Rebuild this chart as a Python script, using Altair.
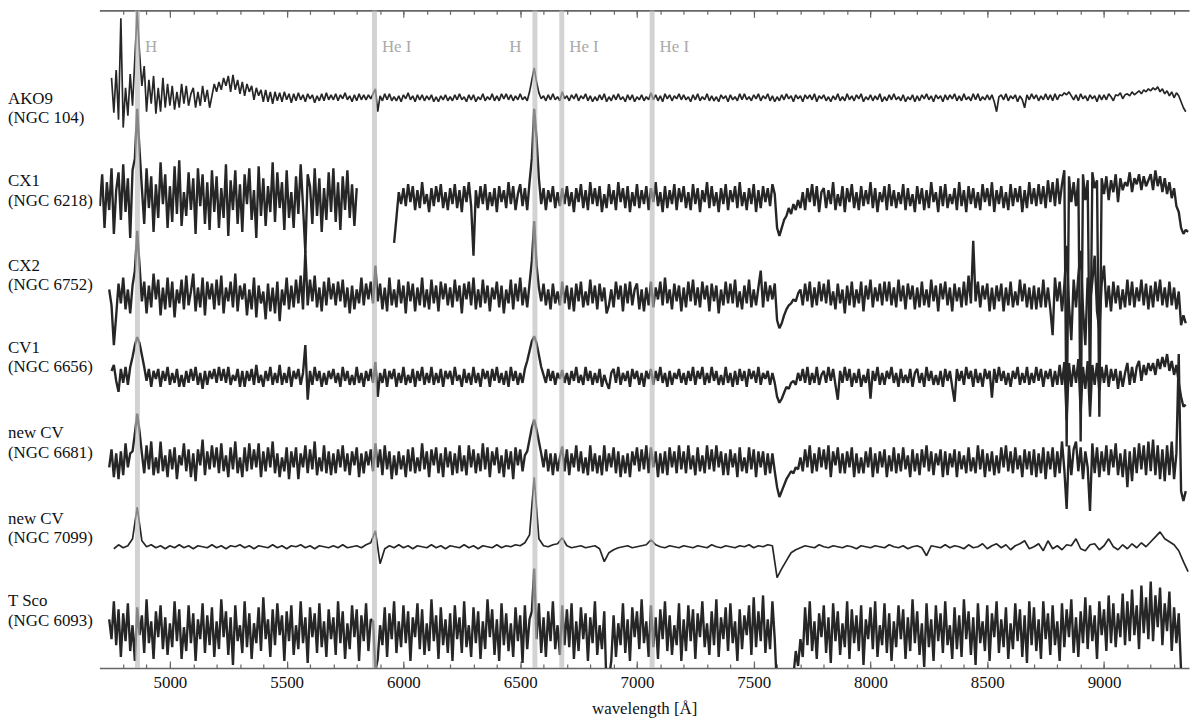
import altair as alt
import pandas as pd

FONT = "Liberation Serif"

# wavelength sampling grids (Angstrom)
wl_fine = list(range(4700, 9361, 10))    # 467 samples
wl_coarse = list(range(4700, 9361, 20))  # 234 samples

names = ["AKO9", "CX1", "CX2", "CV1", "new CV", "new CV", "T Sco"]
hosts = ["NGC 104", "NGC 6218", "NGC 6752", "NGC 6656", "NGC 6681", "NGC 7099", "NGC 6093"]
offsets = [574, 473, 375, 293, 208, 122, 37]
name_pos = [573, 490, 405, 322, 236, 150, 67]
noisy = [False, True, True, True, True, False, True]

line_wl = [4861, 5876, 6563, 6678, 7065]
line_names = ["H", "He I", "H", "He I", "He I"]

major_ticks = [5000, 5500, 6000, 6500, 7000, 7500, 8000, 8500, 9000]
minor_ticks = [4800, 4900, 5000, 5100, 5200, 5300, 5400, 5500, 5600, 5700, 5800, 5900,
               6000, 6100, 6200, 6300, 6400, 6500, 6600, 6700, 6800, 6900, 7000, 7100,
               7200, 7300, 7400, 7500, 7600, 7700, 7800, 7900, 8000, 8100, 8200, 8300,
               8400, 8500, 8600, 8700, 8800, 8900, 9000, 9100, 9200, 9300]

N = None
# ---- relative flux, 10 A sampling (one block of 5 lines = 500 A) ----
ako9 = [
    N, N, N, N, N, 20, -15, 28, -22, 80,
    -30, 10, -18, 24, -8, 40, 88, 45, 12, 32,
    -14, 18, -6, 22, -16, 10, -14, 20, -10, 14,
    -8, 12, -12, 6, -10, 14, -6, 12, -8, 4,
    10, -10, 6, -8, 12, -4, 8, -10, 2, 14,
    6, 16, 8, 20, 12, 22, 6, 23, 8, 18,
    4, 16, 2, 14, 6, 12, -2, 10, 2, 8,
    -4, 8, -4, 6, -6, 6, -3, 5, -4, 6,
    -2, 4, -5, 4, -3, 5, -2, 3, -4, 4,
    -1, 3, -5, 2, -3, 4, -3, 5, -2, 3,
    -2, 4, -3, 3, -1, 5, -2, 2, -4, 3,
    -3, 4, -2, 3, -2, 3, -1, 4, 9, -14,
    2, -3, 4, -2, 4, -3, 1, -3, 2, -4,
    3, -1, 5, -2, 2, -4, 3, -2, 3, -3,
    2, -2, 3, -4, 1, -4, 2, -2, 3, -3,
    1, -3, 3, -2, 4, -2, 1, -4, 3, -2,
    3, -4, 1, -2, 4, -3, 1, -2, 4, -3,
    2, -3, 4, -1, 4, -2, 3, -3, 2, -2,
    4, -2, 1, -3, 6, 18, 30, 16, 5, -1,
    2, -3, 3, -2, 4, -2, 1, -3, 6, -1,
    2, -3, 3, -1, 4, -3, 2, -1, 4, -3,
    2, -4, 1, -3, 3, -2, 4, -4, 1, -3,
    3, -2, 4, -2, 1, -4, 3, -2, 3, -4,
    1, -2, 3, -3, 1, -2, 5, -2, 3, -3,
    2, -4, 4, -1, 3, -3, 2, -1, 4, -2,
    3, -2, 1, -4, 3, -2, 4, -3, 1, -2,
    4, -3, 2, -3, 1, -4, 3, -1, 2, -4,
    3, -2, 1, -3, 4, -2, 4, -2, 1, -3,
    3, -1, 4, -3, 2, -1, 4, -3, 2, -4,
    1, -3, 3, -2, 4, -1, 2, -4, 3, -1,
    2, -4, 3, -1, 3, -2, 4, -4, 2, -1,
    3, -3, 1, -4, 2, -2, 4, -3, 1, -3,
    4, -2, 2, -3, 3, -1, 4, -4, 1, -2,
    3, -3, 2, -2, 4, -4, 1, -3, 3, -2,
    4, -2, 1, -3, 3, -4, 1, -2, 3, -4,
    2, -3, 3, -1, 4, -2, 2, -4, 3, -1,
    2, -4, 3, -2, 3, -1, 4, -3, 2, -3,
    4, -2, 1, -3, 4, -2, 4, -3, 1, -2,
    3, -2, 3, -4, -14, 1, 3, -2, 4, -3,
    2, -1, 3, -4, 2, -2, -10, 3, -2, 4,
    -1, 3, -3, 2, -2, 4, -2, 3, -3, 4,
    -2, 3, 2, 5, 3, 6, 2, -2, 3, -3,
    4, -1, 2, -3, 3, -1, 2, -4, 3, -2,
    3, -2, 4, 1, -3, 3, 2, 5, -1, 3,
    4, 2, 6, 3, 5, 7, 4, 8, 6, 9,
    7, 10, 8, 11, 6, 9, 4, 7, 2, 6, 0, 5, 2, -4, -10, -14, N,
]
cx1 = [
    -8, 24, -30, 16, -12, 30, -36, 8, 26, -22,
    34, -14, 20, -40, 28, 40, 90, 48, 10, -26,
    30, -10, 22, -34, 14, -20, 36, -6, 24, -30,
    12, -24, 32, -16, 38, -28, 6, -18, 26, -12,
    20, -36, 30, -8, 24, -26, 16, -32, 28, -14,
    22, -30, 10, -20, 34, -38, 18, -12, 28, -26,
    14, -34, 24, -6, 30, -22, 8, -40, 32, -18,
    20, -28, 12, -14, 36, -24, 26, -10, 16, -32,
    28, -20, 6, -30, 22, -16, 34, -8, -55, 24,
    12, -26, 30, -18, 20, -34, 10, -22, 26, -14,
    30, -24, 16, -32, 22, -12, 28, -20, 14, -28,
    10, N, N, N, N, N, N, N, N, N,
    N, N, N, N, N, N, -45, -20, 6, -6,
    10, -8, 14, -4, 12, -12, 8, -10, 16, -6,
    4, -14, 10, -8, 12, -4, 14, -10, 6, -12,
    10, -6, 14, -10, 8, -14, 12, -4, 16, -8,
    -58, 8, -10, 12, -6, 14, -12, 6, -8, 10,
    -14, 12, -4, 8, -10, 16, -6, 12, -12, 4,
    14, -8, 10, -12, 16, 40, 90, 60, 20, -6,
    10, -12, 8, -4, 12, -10, 6, -8, 10, -6,
    12, -8, 6, -14, 10, -4, 14, -10, 8, -12,
    16, -6, 10, -8, 12, -14, 4, -10, 14, -6,
    8, -12, 16, -4, 10, -10, 12, -14, 6, -8,
    14, -10, 8, -6, 12, -12, 10, -4, 16, -8,
    6, -14, 12, -10, 8, -6, 14, -12, 10, -4,
    12, -10, 6, -12, 14, -6, 10, -14, 8, -4,
    16, -10, 12, -8, 6, -14, 10, -6, 14, -12,
    8, -4, 12, -10, 16, -8, 6, -12, 10, -6,
    14, -14, 8, -10, 12, -4, 10, -8, 14, 4,
    -30, -38, -30, -22, -18, -10, -16, -6, -12, -2,
    -10, 6, -12, 10, -4, 14, -8, 12, -14, 6,
    10, -10, 8, -6, 16, -12, 4, -8, 12, -14,
    10, -4, 14, -10, 6, -12, 12, -8, 8, -6,
    16, -10, 10, -14, 6, -4, 12, -12, 14, -8,
    8, -10, 6, -6, 14, -12, 10, -8, 4, -14,
    12, -6, 10, -12, 8, -10, 16, -4, 6, -14,
    12, -8, 14, -10, 4, -6, 10, -12, 16, -8,
    8, -14, 12, -6, 10, -10, 6, -12, 14, -4,
    10, -8, 16, -14, 8, -6, 12, -10, 6, -12,
    14, -8, 10, -4, 12, -14, 8, -10, 16, -6,
    10, -8, 14, -6, 12, -10, 18, -4, 16, -8,
    20, -6, 14, 28, -250, 22, -4, 16, -8, 20,
    -245, 24, -2, 18, -200, 26, 10, 18, -220, 20,
    4, 22, -2, 18, 6, 24, -4, 20, 8, 16,
    12, 26, 6, 20, 14, 24, 8, 22, 12, 18,
    24, 8, 28, 12, 22, 6, 20, 4, 16, 0, 10, -8, -14, -30, -36, -32, -34,
]
cx2 = [
    N, N, N, N, 6, -10, -50, -20, 12, -8,
    18, -14, 6, -18, 10, 25, 65, 30, -6, 14,
    -18, 10, -12, 22, -4, 16, -20, 8, -14, 18,
    -12, 14, -22, 6, -8, 16, -14, 20, -10, 4,
    22, -16, 8, -12, 18, -20, 14, -4, 12, -14,
    16, -10, 20, -18, 8, -6, 14, -12, 22, -16,
    10, -4, 12, -20, 6, -14, 18, -22, 10, -8,
    4, -24, 12, -16, 8, -18, 14, -26, 6, -10,
    18, -14, 10, -12, 16, -8, 20, -14, 45, -10,
    16, -6, 20, -12, 8, -16, 14, -10, 18, -4,
    12, -10, 14, -6, 16, -12, 8, -18, 10, -14,
    6, -8, 18, -10, 12, -4, 14, -8, 30, -6,
    12, -14, 8, -16, 18, -10, 6, -12, 16, -8,
    10, -18, 14, -6, 12, -16, 8, -10, 18, -12,
    6, -14, 16, -8, 10, -16, 14, -4, 12, -10,
    8, -12, 16, -6, 10, -18, 12, -4, 14, -10,
    18, -14, 6, -12, 16, -8, 10, -16, 8, -4,
    14, -12, 10, -18, 6, -8, 16, -14, 12, -6,
    18, -10, 8, -12, 12, 35, 75, 30, 8, -6,
    12, -10, 6, -14, 12, -8, 4, -10, 14, -8,
    10, -14, 8, -16, 12, -6, 14, -12, 4, -10,
    16, -8, 10, -14, 12, -6, 8, -18, -10, 6,
    -12, 14, -4, 10, -16, 12, -8, 14, -10, 6,
    12, -14, 6, -16, 8, -10, 14, -12, 8, -4,
    14, -10, 18, -8, 6, -14, 12, -6, 10, -16,
    8, -12, 14, -6, 16, -10, 8, -12, 14, -4,
    10, -16, 12, -6, 10, -18, 6, -10, 14, -8,
    12, -8, 16, -12, 4, -14, 10, -8, 16, -12,
    6, -10, 8, 25, -12, 14, -6, 10, -4, 12,
    -25, -33, -28, -20, -14, -10, -8, -4, -6, 2,
    6, -10, 12, -6, 14, -12, 8, -10, 14, -6,
    12, -8, 16, -10, 4, -14, 12, -8, 6, -18,
    10, -10, 14, -12, 6, -8, 14, -16, 10, -4,
    16, -12, 8, -6, 12, -10, 14, -6, 14, -10,
    8, -12, 16, -6, 10, -14, 12, -4, 10, -14,
    8, -12, 14, -10, 6, -12, 16, -6, 10, -16,
    12, -4, 14, -10, 8, -16, 12, -6, 8, -12,
    14, -10, 20, -8, 55, -6, 14, -12, 10, -4,
    12, -16, 8, -14, 10, -6, 12, -16, 8, -10,
    14, -12, 4, -10, 16, -6, 12, -12, 8, -14,
    10, -14, 8, -12, 16, -12, 8, -14, -40, 18,
    -6, 14, -16, 10, 50, -10, -45, 16, -12, 20,
    45, -14, -50, 18, -8, 14, 40, -16, -35, 12,
    30, -12, 10, -16, 14, -8, 10, -14, 6, -12,
    16, -10, 14, -12, 8, -6, 16, -10, 12, -14,
    10, -12, 14, -6, 16, -10, 8, -12, 14, -10, 8, -14, 4, -30, -20, -28, N,
]
cv1 = [
    N, N, N, N, N, 6, 12, -4, -15, 8,
    -6, 10, -8, 10, 20, 32, 40, 34, 22, 10,
    -4, 8, -10, 6, -2, 8, -10, 6, -4, 10,
    -8, 4, -6, 8, -10, 2, -10, 6, -6, 8,
    -4, 10, -8, 4, -12, 6, -8, 6, -2, 8,
    -6, 10, -4, 8, -6, 10, -8, 2, -4, 8,
    -10, 6, -10, 6, -4, 8, -8, 12, -6, 2,
    -10, 6, -4, 10, -8, 4, -6, 12, -8, 4,
    -6, 10, -10, 6, -2, 8, -8, 4, 32, -23,
    6, -8, 10, -4, 6, -10, 4, -8, 6, -2,
    8, -6, 4, -10, 10, -4, 6, -8, 2, -8,
    10, -6, 4, -10, 6, -4, 8, -6, 15, -20,
    4, -6, 8, -10, 6, -2, 8, -10, 4, -6,
    10, -8, 2, -6, 8, -10, 6, -4, 10, -8,
    4, -6, 10, -8, 4, -6, 8, -10, 6, -2,
    6, -8, 10, -4, 2, -10, 8, -6, 4, -8,
    10, -6, 4, -10, 8, -2, 6, -10, 8, -4,
    10, -6, 4, -8, 6, -10, 10, -4, 6, -8,
    4, -6, 8, 16, 26, 36, 41, 34, 22, 10,
    2, -6, 8, -4, 6, -8, 4, -2, 7, -6,
    4, -8, 6, -4, 10, -6, 2, -8, 10, -4,
    6, -8, 4, -6, 8, -10, 2, -6, -12, 4,
    8, -6, 10, -8, 4, -4, 6, -10, 8, -2,
    6, -8, 4, -10, 6, -2, 8, -8, 6, -4,
    10, -6, 4, -10, 6, -8, 4, -2, 8, -6,
    4, -8, 6, -4, 10, -8, 6, -2, 10, -8,
    4, -6, 10, -4, 6, -8, 2, -8, 10, -6,
    4, -10, 6, -8, 8, -4, 6, -10, 8, -2,
    6, -6, 10, -8, 4, -2, 6, -8, 4, -6,
    -20, -26, -22, -16, -10, -12, -6, -4, -8, 4,
    -4, 8, -6, 10, -8, 4, -6, 10, -8, 2,
    6, -6, 10, -4, 8, -8, -23, 6, -6, 10,
    -4, 8, -10, 4, -6, 8, -10, 2, -6, 8,
    -22, 6, -4, 10, -8, 4, -8, 6, -2, 10,
    -6, 4, -10, 8, -6, 2, -6, 8, -10, 4,
    8, -6, 4, -10, 10, -4, 6, -8, 2, -8,
    6, -10, 8, -4, 6, -10, -25, 8, -4, 6,
    -8, 10, -2, 6, -10, 8, -6, 4, -10, 8,
    -2, 6, -21, 8, -6, 10, -4, 6, -8, 4,
    -10, 6, -2, 10, -8, 4, -6, 10, -8, 4,
    -6, 10, -4, 8, -10, 6, -2, 8, -10, 6,
    -8, 12, -8, 15, -43, 14, -10, 12, -6, 18,
    -35, 10, -12, 16, -40, 12, -8, 14, -14, 10,
    -6, 12, -10, 8, -4, 8, -12, 6, -10, 4,
    14, -8, 10, -6, 10, 16, -4, 12, 2, 14,
    6, 14, 2, 18, 8, 20, 10, 23, 6, 16, 2, 12, -6, -20, -30, -28, N,
]
ngc6681 = [
    N, N, N, N, -6, 12, -16, 8, -18, 10,
    -14, 18, -6, 8, 10, 28, 48, 30, 8, -12,
    16, -8, 20, -14, 4, -12, 20, -10, 6, -16,
    12, -8, 14, -18, 6, -4, 18, -10, 12, -16,
    8, -20, 12, -4, 22, -14, 10, -8, 16, -6,
    14, -12, 18, -10, 6, -16, 14, -8, 20, -12,
    4, -16, 14, -10, 18, -8, 12, -6, 18, -16,
    10, -10, 14, -6, 20, -12, 8, -16, 4, -10,
    14, -18, 10, -6, 14, -18, 8, -6, 16, -12,
    12, -8, 20, -14, 4, -10, 16, -12, 10, -14,
    8, -12, 12, -6, 16, -10, 8, -14, 10, -4,
    14, -16, 8, -12, 10, -4, 12, -10, 18, -6,
    12, -14, 16, -8, 10, -18, 6, -14, 10, -8,
    6, -16, 12, -10, 14, -12, 4, -10, 18, -8,
    10, -16, 12, -4, 14, -12, 8, -16, 14, -6,
    10, -14, 8, -12, 16, -10, 6, -14, 16, -6,
    12, -12, 8, -10, 18, -8, 14, -16, 10, -4,
    14, -12, 6, -16, 12, -8, 10, -18, 14, -4,
    12, -10, 6, 10, 22, 34, 42, 32, 20, 8,
    -6, 12, -10, 8, -14, 8, -10, 4, 15, -10,
    12, -14, 8, -6, 16, -10, 10, -12, 4, -14,
    16, -10, 8, -12, 6, -14, 16, -10, 8, -6,
    14, -12, 10, -16, 6, -12, 8, -16, 10, -4,
    14, -10, 12, -8, 16, -12, 14, -6, 10, -16,
    8, -12, 10, -14, 14, -6, 10, -12, 16, -8,
    10, -12, 16, -8, 6, -14, 14, -10, 6, -12,
    16, -8, 12, -10, 16, -6, 10, -14, 8, -14,
    12, -6, 8, -16, 14, -10, 4, -12, 14, -8,
    12, -16, 10, -6, 10, -14, 8, -12, 8, -10,
    -26, -36, -30, -24, -18, -14, -10, -12, -6, -8,
    4, -10, 12, -6, 16, -12, 8, -10, 14, -6,
    12, -8, 16, -16, 10, -4, 14, -12, 8, -12,
    10, -6, 14, -16, 8, -12, 4, -12, 10, -6,
    14, -16, 8, -12, 10, -6, 12, -16, 6, -10,
    14, -12, 8, -10, 14, -8, 6, -16, 12, -10,
    8, -14, 12, -6, 16, -10, 10, -14, 8, -4,
    12, -16, 10, -14, 8, -6, 12, -16, 10, -8,
    6, -12, 14, -10, 4, -12, 16, -8, 12, -16,
    8, -10, 10, -14, 6, -12, 14, -6, 16, -10,
    10, -12, 14, -8, 6, -16, 12, -8, 10, -14,
    12, -16, 8, -12, 14, -18, 10, -8, 14, -16,
    10, -12, 20, -8, -48, 16, -14, 12, 20, -10,
    14, -18, 10, -6, -50, 18, -12, 14, -16, 10,
    -10, 16, -14, 12, -6, 18, -14, 8, -16, 12,
    -26, 10, -20, 14, -12, 18, -8, 16, -14, 20,
    -10, 22, -14, 16, -18, 12, -20, 16, -14, 20, -18, 8, 108, -30, -40, -30, N,
]
tsco = [
    N, N, N, N, 12, -8, 30, -14, 22, -26,
    18, -10, 28, -20, 6, -30, 24, -4, 16, -22,
    32, -12, 10, -28, 20, -6, 26, -18, 14, -24,
    8, -16, 30, -10, 22, -28, 4, -20, 26, -12,
    18, -30, 12, -8, 28, -22, 16, -14, 24, -26,
    10, -18, 32, -6, 20, -24, 14, -34, 26, -10,
    6, -22, 30, -16, 18, -28, 8, -12, 24, -20,
    34, -8, 12, -26, 22, -14, 28, -4, 16, -30,
    20, -10, 26, -24, 6, -18, 30, -12, 14, -32,
    24, -6, 18, -22, 28, -16, 10, -26, 22, -8,
    14, -24, 30, -12, 20, -28, 8, -18, 26, -6,
    22, -30, 16, -10, 28, -20, 12, 10, -40, -28,
    6, -14, 24, -26, 18, -8, 30, -22, 10, -16,
    26, -12, 20, -30, 14, -6, 28, -18, 22, -24,
    8, -20, 32, -10, 16, -28, 24, -14, 12, -22,
    18, -30, 26, -8, 14, -22, 30, -16, 6, -26,
    24, -12, 20, -28, 10, -18, 32, -6, 22, -24,
    12, -30, 28, -14, 18, -20, 8, -26, 24, -10,
    16, -32, 26, -18, 12, 20, 63, -8, 28, -22,
    14, -26, 20, -10, 30, -18, 6, -24, 26, -14,
    22, -16, 28, -28, 10, -20, 24, -8, 18, -30,
    14, -12, 30, -24, 6, -18, 20, -60, -48, -30,
    16, -26, 8, -14, 28, -22, 12, -30, 24, -6,
    20, -18, 32, -12, 10, -26, 26, -16, 14, -28,
    22, -8, 30, -20, 16, -24, 6, -14, 28, -30,
    12, -20, 26, -10, 22, -28, 18, -6, 30, -16,
    8, -24, 20, -14, 32, -26, 14, -8, 24, -20,
    28, -12, 10, -30, 22, -18, 16, -4, 26, -24,
    34, -16, 20, -10, 36, -22, 12, -18, 30, -8,
    -60, -90, -95, -85, -80, -70, -55, -45, -20, -35,
    -8, -26, 24, -14, 30, -20, 10, -28, 18, -6,
    26, -22, 14, -32, 28, -10, 20, -24, 8, -16,
    30, -28, 22, -12, 16, -20, 26, -34, 12, -8,
    24, -18, 30, -26, 6, -14, 28, -22, 18, -30,
    10, -16, 26, -8, 22, -28, 14, -20, 32, -12,
    20, -24, 8, -36, 28, -16, 12, -30, 26, -10,
    18, -22, 30, -14, 6, -28, 24, -18, 16, -26,
    32, -8, 20, -24, 14, -34, 28, -12, 10, -20,
    26, -30, 18, -6, 30, -22, 12, -16, 24, -28,
    8, -18, 28, -10, 22, -26, 16, -32, 30, -14,
    24, -20, 12, -28, 30, -8, 18, -24, 26, -14,
    10, -30, 28, -16, 22, -6, 32, -22, 14, -26,
    20, -12, 34, -18, 26, -10, 16, -28, 30, -4,
    22, -20, 36, -12, 28, -16, 18, -6, 38, -14,
    30, -10, 42, -4, 26, -18, 46, -2, 34, -8,
    50, -10, 36, 4, 44, -14, 28, 0, 40, -20, 24, -12, 18, -40, -55, -65, -70,
]
# ---- relative flux, 20 A sampling (one line = 500 A) ----
ngc7099 = [
    N, N, N, -2, 2, -1, 1, 8, 40, 6, 0, 2, -1, 1, -2, 1, -1, 2, -1, 1, -2, 1, 0, -1, 2,
    -1, 1, -2, 1, 0, 2, -1, 1, -2, 1, 0, -1, 2, -1, 1, -2, 1, 0, 2, -1, 1, -2, 1, 0, -1,
    1, -1, 2, -1, 0, 1, -1, 2, 4, 16, -17, -2, 1, -1, 2, -1, 1, -2, 1, 0, -1, 2, -1, 1, -2,
    1, 0, -1, 2, -1, 1, -2, 1, 0, -1, 2, -1, 1, 0, 2, 1, 4, 12, 70, 8, 1, 0, 2, 3, 9,
    1, -1, 0, 1, -1, 0, 1, -2, -15, -6, -3, -1, 0, 1, -1, 0, 1, 2, 7, 2, 0, -1, 1, 0, -1,
    1, 0, -1, 1, 0, -1, 2, 0, -1, 1, 0, -1, 1, 0, 2, -1, 1, 0, 2, 1, -31, -22, -14, -6, -3,
    -1, 1, 0, -1, 2, 0, -1, 1, 0, -1, 1, 0, -2, 1, 0, -1, 1, 0, -1, 2, 0, -1, 1, -2, 0,
    1, -1, -9, 1, 0, -1, 2, -1, 1, 0, -2, 2, -1, 0, 3, -2, 1, 3, -1, 2, -3, 1, 3, 6, -2,
    0, 3, -4, 6, -2, 1, -3, 2, 1, 8, -2, -4, 2, 3, -3, 1, 8, 0, -3, 2, -2, 3, -1, 4, 0,
    5, 10, 15, 8, 5, 2, -4, -15, -25,
]

spectra = [ako9, cx1, cx2, cv1, ngc6681, ngc7099, tsco]
grids = [wl_fine, wl_fine, wl_fine, wl_fine, wl_fine, wl_coarse, wl_fine]

# long table; gaps (None) split a spectrum into separate path segments
rows = []
for k, (vals, grid, off) in enumerate(zip(spectra, grids, offsets)):
    seg = 0
    prev_none = False
    for w, v in zip(grid, vals):
        if v is None:
            if not prev_none:
                seg += 1
            prev_none = True
            continue
        prev_none = False
        rows.append({"wl": w, "flux": v + off, "seg": f"{k}-{seg}", "noisy": noisy[k]})
df = pd.DataFrame(rows)

lines_df = pd.DataFrame({"wl": line_wl, "name": line_names})
names_df = pd.DataFrame({"name": names, "host": [f"({h})" for h in hosts], "pos": name_pos})

xscale = alt.Scale(domain=[4698, 9364], nice=False, zero=False)
yscale = alt.Scale(domain=[0, 662], nice=False, zero=False)
AX = "#666666"

axis_bottom_major = alt.Axis(
    orient="bottom", values=major_ticks, format="d", grid=False,
    tickSize={"expr": "-7"}, tickColor=AX, tickWidth=1.2,
    domainColor=AX, domainWidth=1.6,
    labelFont=FONT, labelFontSize=17, labelColor="#111111", labelPadding=14,
    title="wavelength [Å]", titleFont=FONT, titleFontSize=17,
    titleFontWeight="normal", titleColor="#111111", titlePadding=10,
)
axis_bottom_minor = alt.Axis(
    orient="bottom", values=minor_ticks, grid=False, labels=False, domain=False,
    tickSize={"expr": "-4"}, tickColor=AX, tickWidth=1.2, title=None,
)
axis_top_major = alt.Axis(
    orient="top", values=major_ticks, grid=False, labels=False,
    tickSize={"expr": "-7"}, tickColor=AX, tickWidth=1.2,
    domainColor=AX, domainWidth=1.6, title=None,
)
axis_top_minor = alt.Axis(
    orient="top", values=minor_ticks, grid=False, labels=False, domain=False,
    tickSize={"expr": "-4"}, tickColor=AX, tickWidth=1.2, title=None,
)

noisy_lines = alt.Chart(df).transform_filter(
    "datum.noisy"
).mark_line(
    color="#262626", strokeWidth=2.4, strokeJoin="bevel", clip=True, interpolate="linear"
).encode(
    x=alt.X("wl:Q", scale=xscale, axis=axis_bottom_minor),
    y=alt.Y("flux:Q", scale=yscale, axis=None),
    detail="seg:N",
    order="wl:Q",
)

smooth_lines = alt.Chart(df).transform_filter(
    "!datum.noisy"
).mark_line(
    color="#262626", strokeWidth=1.7, strokeJoin="bevel", clip=True, interpolate="linear"
).encode(
    x=alt.X("wl:Q", scale=xscale, axis=None),
    y=alt.Y("flux:Q", scale=yscale, axis=None),
    detail="seg:N",
    order="wl:Q",
)

bands = alt.Chart(lines_df).mark_rule(
    color="#bcbcbc", strokeWidth=5, opacity=0.65
).encode(
    x=alt.X("wl:Q", scale=xscale, axis=axis_bottom_major),
)

labels_right = alt.Chart(lines_df).transform_filter(
    "datum.wl != 6563"
).mark_text(
    align="left", baseline="middle", dx=7.5, font=FONT, fontSize=17, color="#aaaaaa"
).encode(
    x=alt.X("wl:Q", scale=xscale, axis=axis_top_major),
    y=alt.value(37),
    text="name:N",
)

labels_left = alt.Chart(lines_df).transform_filter(
    "datum.wl == 6563"
).mark_text(
    align="right", baseline="middle", dx=-13.5, font=FONT, fontSize=17, color="#aaaaaa"
).encode(
    x=alt.X("wl:Q", scale=xscale, axis=axis_top_minor),
    y=alt.value(37),
    text="name:N",
)

name_text = alt.Chart(names_df).mark_text(
    align="left", baseline="middle", font=FONT, fontSize=17, color="#111111"
).encode(
    x=alt.value(-92),
    y=alt.Y("pos:Q", scale=yscale, axis=None),
    text="name:N",
)
host_text = alt.Chart(names_df).mark_text(
    align="left", baseline="middle", dy=19.5, font=FONT, fontSize=17, color="#111111"
).encode(
    x=alt.value(-92),
    y=alt.Y("pos:Q", scale=yscale, axis=None),
    text="host:N",
)

chart = alt.layer(
    noisy_lines, smooth_lines, bands, labels_right, labels_left, name_text, host_text
).resolve_axis(
    x="independent"
).properties(
    width=1097, height=662,
    autosize=alt.AutoSizeParams(type="none"),
    padding={"left": 92, "top": 0, "right": 3, "bottom": 48},
    background="white",
).configure_view(stroke=None)

chart.save("out.html", embed_options={"renderer": "svg", "actions": False})
